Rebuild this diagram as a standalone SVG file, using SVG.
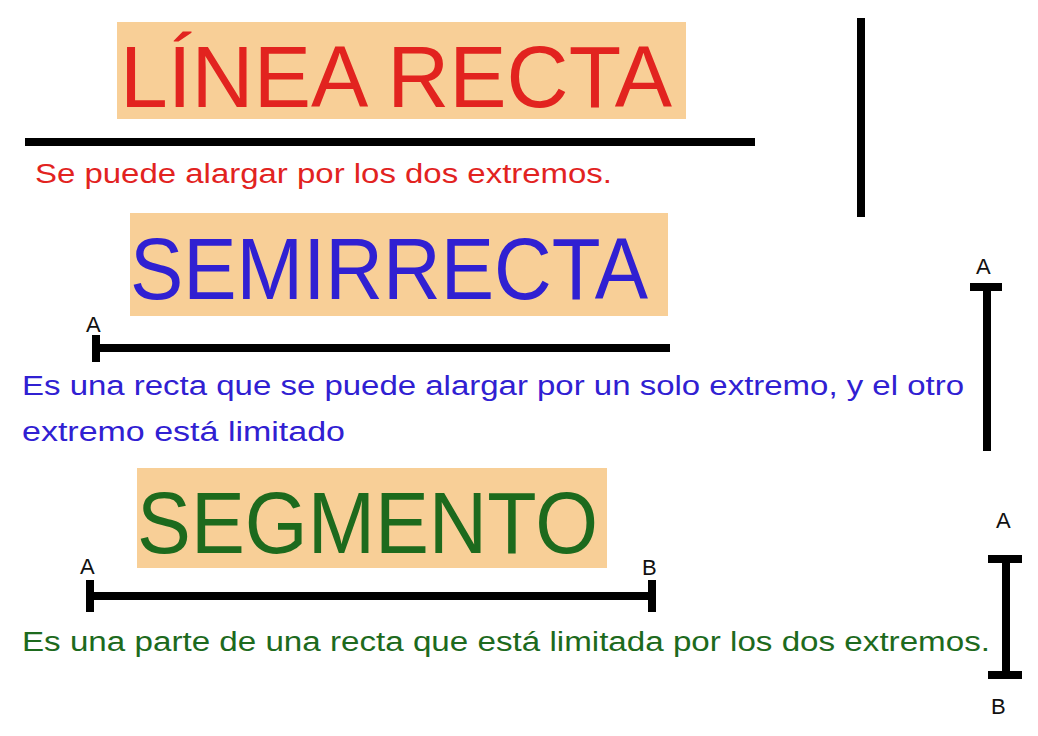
<svg xmlns="http://www.w3.org/2000/svg" width="1038" height="736" viewBox="0 0 1038 736">
<style>
.box{fill:#f8cf97}
.title{font-family:"Liberation Sans",Arial,sans-serif;font-size:88px}
.desc{font-family:"Liberation Sans",Arial,sans-serif;font-size:27px}
.lbl{font-family:"Liberation Sans",Arial,sans-serif;font-size:22px;fill:#111}
.ln{stroke:#000;stroke-width:8;fill:none}
.red{fill:#e2231f}.blue{fill:#3020d2}.green{fill:#1d6a1d}
</style>
<rect width="1038" height="736" fill="#fff"/>
<g id="linea-recta">
<rect class="box" x="117" y="22" width="569" height="97"/>
<text class="title red" x="120" y="107" textLength="552" lengthAdjust="spacingAndGlyphs">LÍNEA RECTA</text>
<line class="ln" x1="25" y1="142" x2="755" y2="142"/>
<text class="desc red" x="35" y="183" textLength="577" lengthAdjust="spacingAndGlyphs">Se puede alargar por los dos extremos.</text>
<line class="ln" x1="861" y1="18" x2="861" y2="217" stroke-width="7"/>
</g>
<g id="semirrecta">
<rect class="box" x="130" y="213" width="538" height="103"/>
<text class="title blue" x="130" y="299" textLength="518" lengthAdjust="spacingAndGlyphs">SEMIRRECTA</text>
<text class="lbl" x="86" y="332">A</text>
<line class="ln" x1="95" y1="348" x2="670" y2="348"/>
<line class="ln" x1="96" y1="335" x2="96" y2="362" stroke-width="7"/>
<text class="desc blue" x="22" y="395" textLength="942" lengthAdjust="spacingAndGlyphs">Es una recta que se puede alargar por un solo extremo, y el otro</text>
<text class="desc blue" x="22" y="441" textLength="323" lengthAdjust="spacingAndGlyphs">extremo está limitado</text>
<text class="lbl" x="976" y="274">A</text>
<line class="ln" x1="970" y1="287" x2="1002" y2="287"/>
<line class="ln" x1="987" y1="287" x2="987" y2="451"/>
</g>
<g id="segmento">
<rect class="box" x="137" y="468" width="470" height="100"/>
<text class="title green" x="137" y="553" textLength="461" lengthAdjust="spacingAndGlyphs">SEGMENTO</text>
<text class="lbl" x="80" y="574">A</text>
<text class="lbl" x="642" y="575">B</text>
<line class="ln" x1="89" y1="596" x2="652" y2="596"/>
<line class="ln" x1="90" y1="580" x2="90" y2="612" stroke-width="7"/>
<line class="ln" x1="652" y1="580" x2="652" y2="612" stroke-width="7"/>
<text class="desc green" x="22" y="651" textLength="968" lengthAdjust="spacingAndGlyphs">Es una parte de una recta que está limitada por los dos extremos.</text>
<text class="lbl" x="996" y="528">A</text>
<text class="lbl" x="991" y="714">B</text>
<line class="ln" x1="988" y1="559" x2="1022" y2="559"/>
<line class="ln" x1="1006" y1="559" x2="1006" y2="675"/>
<line class="ln" x1="988" y1="675" x2="1022" y2="675"/>
</g>
</svg>
